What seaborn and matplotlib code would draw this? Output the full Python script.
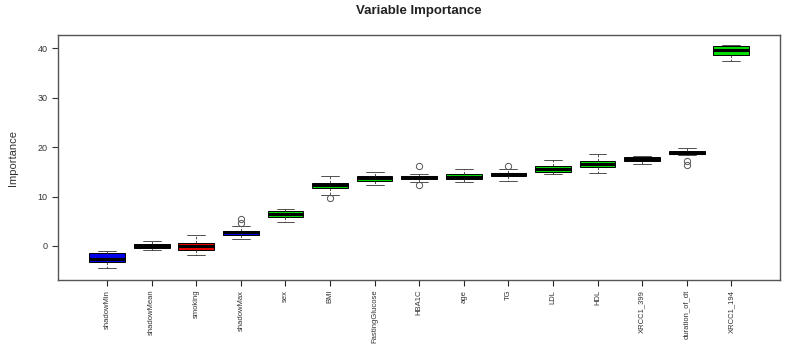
import numpy as np
import pandas as pd
import matplotlib
matplotlib.use("Agg")
import matplotlib.pyplot as plt
import seaborn as sns

sns.set_style("white")
plt.rcParams['font.family'] = ['Liberation Sans', 'DejaVu Sans']

# Boruta attributes, in plotted order
variables = ["shadowMin", "shadowMean", "smoking", "shadowMax", "sex", "BMI",
             "FastingGlucose", "HBA1C", "age", "TG", "LDL", "HDL",
             "XRCC1_399", "duration_of_dt", "XRCC1_194"]
decision = ["shadow", "shadow", "rejected", "shadow", "confirmed", "confirmed",
            "confirmed", "confirmed", "confirmed", "confirmed", "confirmed",
            "confirmed", "confirmed", "confirmed", "confirmed"]

# box summaries
whis_lo = [-4.5, -0.9, -1.8, 1.35, 4.8, 10.4, 12.3, 12.9, 13.0, 13.1, 14.5, 14.7, 16.6, 18.5, 37.4]
q1      = [-3.2, -0.4, -0.8, 2.2, 5.9, 11.7, 13.1, 13.5, 13.5, 14.1, 14.9, 15.9, 17.2, 18.6, 38.7]
med     = [-2.7, 0.0, 0.0, 2.8, 6.5, 12.3, 13.7, 13.9, 14.0, 14.5, 15.6, 16.5, 17.6, 18.9, 39.6]
q3      = [-1.4, 0.4, 0.5, 3.1, 7.1, 12.8, 14.2, 14.2, 14.5, 14.8, 16.2, 17.1, 18.0, 19.2, 40.4]
whis_hi = [-1.1, 0.9, 2.2, 4.0, 7.5, 14.2, 14.9, 14.6, 15.6, 15.5, 17.4, 18.6, 18.3, 19.8, 40.7]
out_lo = [[], [], [], [], [], [9.8], [], [12.3], [], [], [], [], [], [16.4, 17.2], []]
out_hi = [[], [], [], [4.6, 5.4], [], [], [], [16.2], [], [16.2], [], [], [], [], []]

palette = {"shadow": "#0000EE", "rejected": "#EE0000", "confirmed": "#00DD00"}

# seaborn wants observations: build 13 per attribute so the quartiles land exactly
rows = []
for i, v in enumerate(variables):
    lo = sorted(out_lo[i]) + [whis_lo[i]] * (3 - len(out_lo[i]))
    hi = [whis_hi[i]] * (3 - len(out_hi[i])) + sorted(out_hi[i])
    mid = [q1[i], q1[i], med[i], med[i], med[i], q3[i], q3[i]]
    for val in lo + mid + hi:
        rows.append({"Attribute": v, "Importance": val, "Decision": decision[i]})
df = pd.DataFrame(rows)

fig, ax = plt.subplots(figsize=(7.85, 3.5), dpi=100)
sns.boxplot(data=df, x="Attribute", y="Importance", hue="Decision", palette=palette,
            order=variables, dodge=False, width=0.8, saturation=1, legend=False, ax=ax,
            linecolor="black", linewidth=0.7,
            medianprops=dict(color="black", linewidth=2.2),
            whiskerprops=dict(color="#333333", linewidth=0.6, linestyle=(0, (3, 2))),
            capprops=dict(color="#333333", linewidth=0.6),
            flierprops=dict(marker="o", markersize=4.5, markerfacecolor="none",
                            markeredgecolor="#555555", markeredgewidth=0.7))

ax.set_xlim(-1.1, 15.1)
ax.set_ylim(-6.9, 42.7)
ax.set_yticks([0, 10, 20, 30, 40])
ax.set_xticks(range(len(variables)))
ax.set_xticklabels(variables, rotation=90, fontsize=5.5, color="#333333")
ax.tick_params(axis="y", labelsize=6.5, colors="#333333", direction="out", length=4, width=0.8, left=True)
ax.tick_params(axis="x", direction="out", length=4, width=0.8, bottom=True, pad=3)
for s in ax.spines.values():
    s.set_color("#555555")
    s.set_linewidth(1.0)
ax.set_xlabel("")
ax.set_ylabel("Importance", fontsize=8, color="#333333", labelpad=14)
ax.set_title("Variable Importance", fontsize=9.5, fontweight="bold", color="#222222", pad=15)

plt.subplots_adjust(left=0.074, right=0.994, top=0.9, bottom=0.2)
plt.savefig("out.png", dpi=100)
